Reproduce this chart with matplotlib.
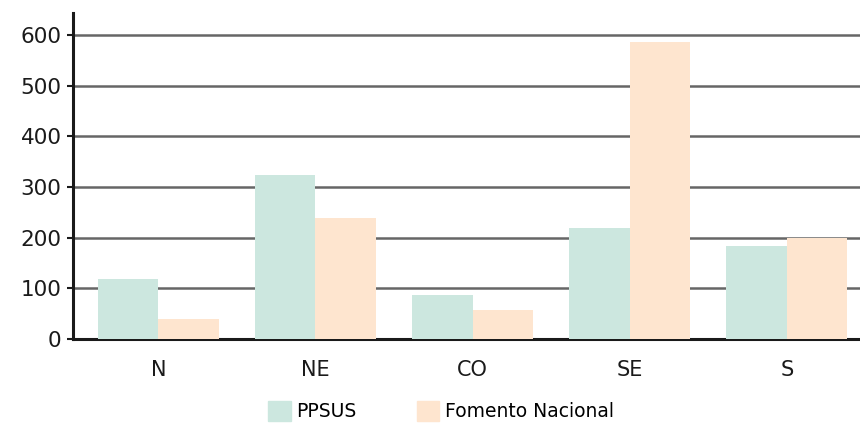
import matplotlib
matplotlib.use("Agg")
import matplotlib.pyplot as plt
import numpy as np
from matplotlib.patches import Patch

regions = ["N", "NE", "CO", "SE", "S"]
ppsus = [118, 323, 86, 219, 183]
fomento = [39, 239, 57, 586, 200]
y_ticks = [0, 100, 200, 300, 400, 500, 600]
series_names = ["PPSUS", "Fomento Nacional"]

c_ppsus = "#cce7df"
c_fomento = "#fee5cf"

fig = plt.figure(figsize=(8.6, 4.23), dpi=100)
ax = fig.add_axes([0.0845, 0.1986, 0.9155, 0.7705])

x = np.arange(len(regions))
w = 0.385
ax.bar(x - w / 2, ppsus, width=w, color=c_ppsus, zorder=3)
ax.bar(x + w / 2, fomento, width=w, color=c_fomento, zorder=3)

ax.set_xlim(-0.545, 4.465)
ax.set_ylim(0, 643)
ax.set_yticks(y_ticks)
ax.set_yticklabels([str(v) for v in y_ticks], fontsize=15.5, color="#1a1a1a")
ax.set_xticks(x)
ax.set_xticklabels(regions, fontsize=15, color="#1a1a1a")

for v in y_ticks[1:]:
    ax.axhline(v, color="#666666", linewidth=1.8, zorder=1)

for side in ("top", "right"):
    ax.spines[side].set_visible(False)
for side in ("left", "bottom"):
    ax.spines[side].set_linewidth(2.2)
    ax.spines[side].set_color("#1a1a1a")

ax.tick_params(axis="y", length=4, width=1.5, color="#1a1a1a", pad=4)
ax.tick_params(axis="x", length=0, pad=15)

handles = [Patch(color=c_ppsus), Patch(color=c_fomento)]
fig.legend(handles, series_names, loc="center", bbox_to_anchor=(0.513, 0.028),
           ncol=2, frameon=False, fontsize=13.5, handlelength=1.2,
           handleheight=1.3, handletextpad=0.3, columnspacing=3.2)

fig.savefig("out.png", dpi=100, facecolor="white")
